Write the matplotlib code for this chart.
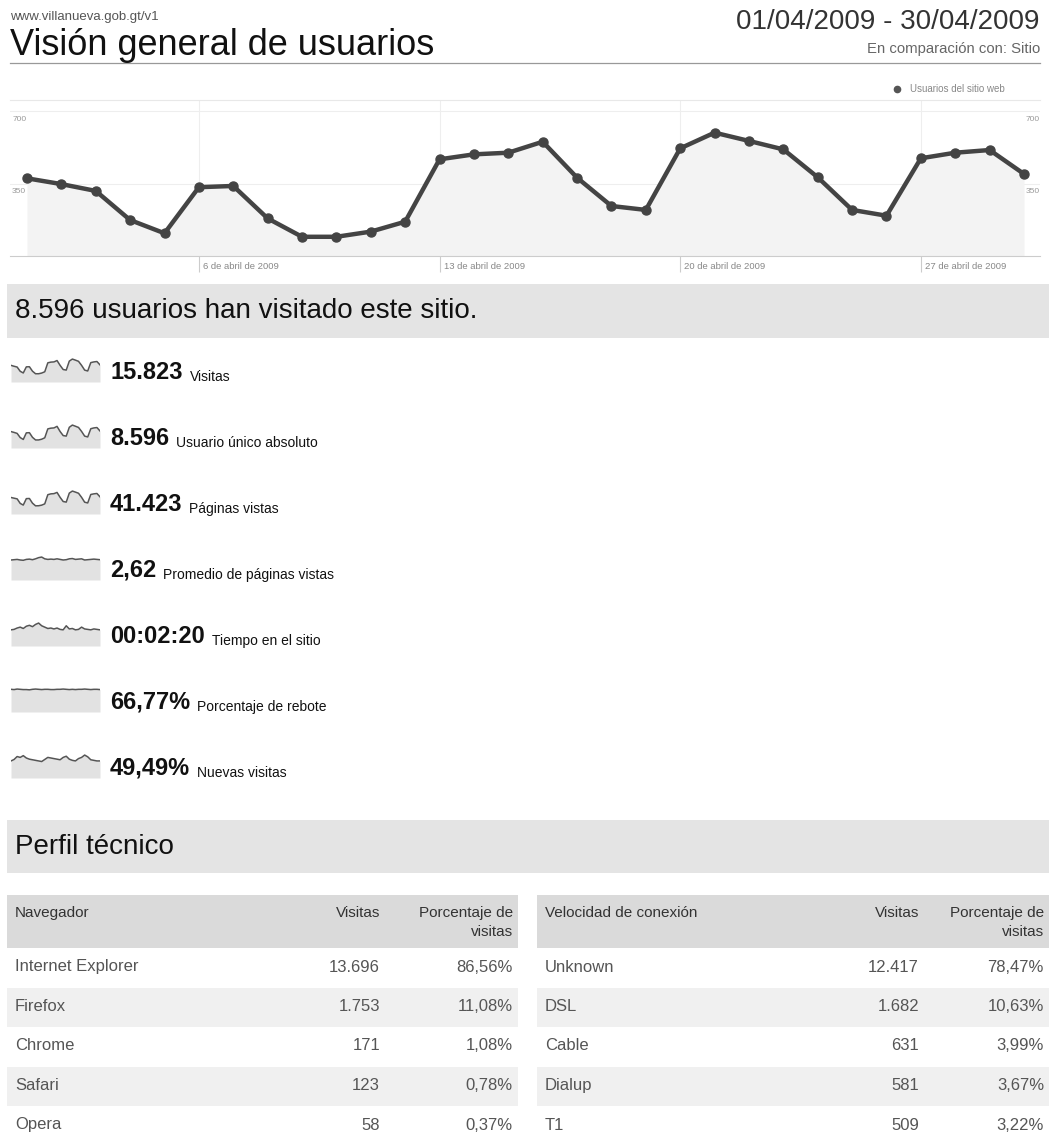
import matplotlib
matplotlib.use('Agg')
import matplotlib.pyplot as plt
from matplotlib.patches import Rectangle
import numpy as np

plt.rcParams['font.family'] = ['Liberation Sans', 'DejaVu Sans']

# daily users, 1-30 April 2009
dias = list(range(1, 31))
usuarios_dia = [376, 348, 315, 174, 110, 333, 339, 182, 93, 93,
                118, 166, 468, 492, 500, 553, 379, 242, 223, 521,
                597, 557, 516, 381, 223, 195, 473, 500, 513, 397]
yticks = [350, 700]
xtick_dias = [6, 13, 20, 27]
xtick_labels = ['6 de abril de 2009', '13 de abril de 2009',
                '20 de abril de 2009', '27 de abril de 2009']

# sparkline series (estimated shapes)
visitas_dia = [575, 530, 490, 275, 190, 500, 505, 280, 150, 150,
               185, 250, 705, 740, 750, 820, 575, 365, 335, 790,
               895, 840, 780, 575, 335, 290, 715, 750, 770, 600]
paginas_dia = [1480, 1390, 1300, 700, 480, 1330, 1350, 730, 380, 390,
               470, 640, 1850, 1960, 1990, 2150, 1500, 950, 870, 2060,
               2330, 2190, 2040, 1500, 860, 760, 1880, 1960, 2010, 1570]
promedio_dia = [2.50, 2.55, 2.60, 2.50, 2.45, 2.60, 2.65, 2.55, 2.70, 2.90,
                3.00, 2.70, 2.60, 2.65, 2.60, 2.70, 2.60, 2.50, 2.55, 2.70,
                2.75, 2.60, 2.65, 2.70, 2.50, 2.55, 2.60, 2.65, 2.60, 2.55]
tiempo_dia = [120, 125, 140, 150, 135, 160, 170, 155, 180, 195,
              165, 150, 135, 140, 130, 140, 125, 120, 165, 130,
              135, 120, 125, 150, 130, 125, 120, 130, 125, 120]
rebote_dia = [67, 66, 68, 67, 66, 66, 65, 67, 68, 67,
              66, 67, 67, 66, 66, 67, 67, 68, 67, 66,
              67, 66, 67, 67, 68, 67, 66, 67, 67, 66]
nuevas_dia = [40, 45, 55, 52, 58, 50, 46, 44, 42, 40,
              38, 45, 52, 50, 48, 46, 44, 52, 56, 46,
              42, 40, 48, 52, 60, 54, 44, 42, 40, 40]

stat_valores = ['15.823', '8.596', '41.423', '2,62', '00:02:20', '66,77%', '49,49%']
stat_nombres = ['Visitas', 'Usuario único absoluto', 'Páginas vistas',
                'Promedio de páginas vistas', 'Tiempo en el sitio',
                'Porcentaje de rebote', 'Nuevas visitas']
sparks = [visitas_dia, usuarios_dia, paginas_dia, promedio_dia,
          tiempo_dia, rebote_dia, nuevas_dia]

navegadores = ['Internet Explorer', 'Firefox', 'Chrome', 'Safari', 'Opera']
nav_visitas = [13696, 1753, 171, 123, 58]
nav_pct = [86.56, 11.08, 1.08, 0.78, 0.37]
conexiones = ['Unknown', 'DSL', 'Cable', 'Dialup', 'T1']
con_visitas = [12417, 1682, 631, 581, 509]
con_pct = [78.47, 10.63, 3.99, 3.67, 3.22]

W, H = 1049, 1141
fig = plt.figure(figsize=(W / 100, H / 100), dpi=100)

# background axes in pixel coordinates
bg = fig.add_axes([0, 0, 1, 1])
bg.set_xlim(0, W)
bg.set_ylim(H, 0)
bg.axis('off')


def px_axes(x0, y0, x1, y1):
    return fig.add_axes([x0 / W, 1 - y1 / H, (x1 - x0) / W, (y1 - y0) / H])


def miles(v):
    return f'{v:,}'.replace(',', '.')


def pct(p):
    return f'{p:.2f}'.replace('.', ',') + '%'


# header
bg.text(10, 20, 'www.villanueva.gob.gt/v1', fontsize=9.5, color='#555555', va='baseline')
bg.text(10, 55, 'Visión general de usuarios', fontsize=26, color='#111111', va='baseline')
bg.text(1040, 29, '01/04/2009 - 30/04/2009', fontsize=20, color='#333333',
        ha='right', va='baseline')
bg.text(1040, 53, 'En comparación con: Sitio', fontsize=10.7, color='#666666',
        ha='right', va='baseline')
bg.plot([10, 1040], [63, 63], color='#999999', lw=0.9)

# legend
bg.plot([897], [89], 'o', color='#555555', ms=4.5)
bg.text(910, 89, 'Usuarios del sitio web', fontsize=7, color='#888888', va='center')

# main chart
ax = px_axes(10, 100, 1040, 256)
ax.fill_between(dias, usuarios_dia, 0, color='#f3f3f3', lw=0, zorder=1)
for y in yticks:
    ax.axhline(y, color='#eeeeee', lw=0.8, zorder=0)
for d in xtick_dias:
    ax.axvline(d, color='#eeeeee', lw=0.8, zorder=0)
ax.plot(dias, usuarios_dia, color='#444444', lw=3.2, marker='o', ms=6.5, zorder=3)
ax.set_xlim(1 - 17 / 34.38, 30 + 16 / 34.38)
ax.set_ylim(0, 156 / 0.2066)
for s in ['left', 'right']:
    ax.spines[s].set_visible(False)
ax.spines['top'].set_color('#e8e8e8')
ax.spines['bottom'].set_color('#cccccc')
ax.set_yticks([])
ax.set_xticks(xtick_dias)
ax.set_xticklabels([])
ax.tick_params(axis='x', direction='out', length=11.5, color='#cccccc', width=0.8)
for d, lab in zip(xtick_dias, xtick_labels):
    ax.annotate(lab, xy=(d, 0), xytext=(3, -4), textcoords='offset points',
                ha='left', va='top', fontsize=6.8, color='#888888')
for y in yticks:
    ax.annotate(str(y), xy=(0, y), xycoords=('axes fraction', 'data'),
                xytext=(1.5, -3), textcoords='offset points', ha='left', va='top',
                fontsize=6, color='#999999')
    ax.annotate(str(y), xy=(1, y), xycoords=('axes fraction', 'data'),
                xytext=(-0.5, -3), textcoords='offset points', ha='right', va='top',
                fontsize=6, color='#999999')

# summary band
bg.add_patch(Rectangle((7, 284), W - 7, 54, color='#e4e4e4', lw=0))
bg.text(15, 311, '8.596 usuarios han visitado este sitio.', fontsize=20,
        color='#111111', va='center')

# sparkline rows
for i, (val, nom, serie) in enumerate(zip(stat_valores, stat_nombres, sparks)):
    c = 372 + 66 * i
    sp = px_axes(11, c - 14, 100, c + 10)
    lo = -0.3 * max(serie)
    sp.fill_between(dias, serie, lo, color='#e2e2e2', lw=0)
    sp.plot(dias, serie, color='#555555', lw=1.1, solid_joinstyle='round')
    sp.set_xlim(1, 30)
    sp.set_ylim(lo, max(serie) * 1.06)
    sp.axis('off')
    t = bg.text(110, c + 7, val, fontsize=17, fontweight='bold', color='#111111',
                va='baseline')
    bg.annotate(nom, xy=(1, 0), xycoords=t, xytext=(5, 0), textcoords='offset points',
                ha='left', va='bottom', fontsize=10, color='#111111')

# technical profile band
bg.add_patch(Rectangle((7, 820), W - 7, 53, color='#e4e4e4', lw=0))
bg.text(15, 847, 'Perfil técnico', fontsize=20, color='#111111', va='center')


def tabla(x0, x1, titulo, nombres, visitas, pcts, xv):
    bg.add_patch(Rectangle((x0, 895), x1 - x0, 53, color='#dadada', lw=0))
    bg.text(x0 + 8, 913, titulo, fontsize=11, color='#333333', va='center')
    bg.text(xv, 913, 'Visitas', fontsize=11, color='#333333', va='center', ha='right')
    bg.text(x1 - 5, 913, 'Porcentaje de', fontsize=11, color='#333333', va='center', ha='right')
    bg.text(x1 - 5, 932, 'visitas', fontsize=11, color='#333333', va='center', ha='right')
    for i, (n, v, p) in enumerate(zip(nombres, visitas, pcts)):
        top = 948 + 39.5 * i
        if i % 2 == 1:
            bg.add_patch(Rectangle((x0, top), x1 - x0, 39.5, color='#f0f0f0', lw=0))
        yc = top + 19
        bg.text(x0 + 8, yc, n, fontsize=12, color='#555555', va='center')
        bg.text(xv, yc, miles(v), fontsize=12, color='#555555', va='center', ha='right')
        bg.text(x1 - 5, yc, pct(p), fontsize=12, color='#555555', va='center', ha='right')


tabla(7, 518, 'Navegador', navegadores, nav_visitas, nav_pct, 380)
tabla(537, 1049, 'Velocidad de conexión', conexiones, con_visitas, con_pct, 919)

fig.savefig('out.png', dpi=100)
